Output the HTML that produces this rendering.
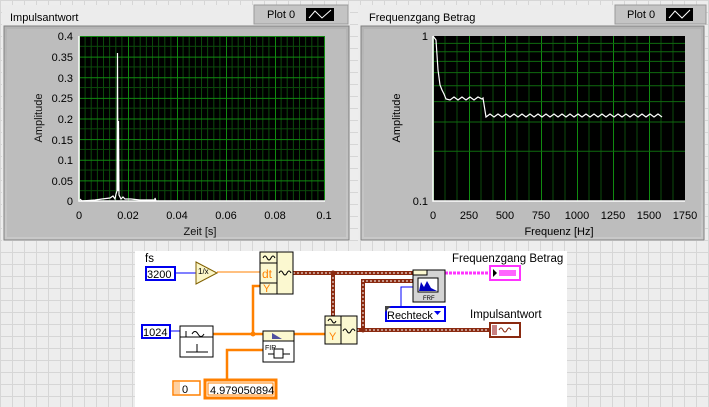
<!DOCTYPE html>
<html><head><meta charset="utf-8"><style>
html,body{margin:0;padding:0;width:709px;height:407px;overflow:hidden;background:#eeeeee}
svg{display:block;font-family:"Liberation Sans",sans-serif}
</style></head><body>
<svg width="709" height="407" viewBox="0 0 709 407" xmlns="http://www.w3.org/2000/svg">
<defs>
<pattern id="bg" width="12" height="12" patternUnits="userSpaceOnUse">
<rect width="12" height="12" fill="#ededed"/><path d="M0,0.5H12M0.5,0V12" stroke="#d6d6d6" stroke-width="1"/>
</pattern>
<pattern id="gl" x="79" y="36" width="49" height="20.625" patternUnits="userSpaceOnUse">
<rect width="49" height="20.625" fill="#000"/>
<path d="M6.1,0V21M12.2,0V21M18.4,0V21M24.5,0V21M30.6,0V21M36.8,0V21M42.9,0V21M0,10.3H49" stroke="#0b4a0b" stroke-width="1"/>
<path d="M0.5,0V21M0,0.5H49" stroke="#108a10" stroke-width="1"/>
</pattern>
<pattern id="gr" x="433" y="36" width="36" height="200" patternUnits="userSpaceOnUse">
<path d="M12,0V200M24,0V200" stroke="#0b4a0b" stroke-width="1"/>
<path d="M0.5,0V200" stroke="#108a10" stroke-width="1"/>
</pattern>
<linearGradient id="pn" x1="0" y1="0" x2="0" y2="1"><stop offset="0" stop-color="#b4b4b4"/><stop offset="1" stop-color="#c8c8c8"/></linearGradient>
</defs>
<rect width="709" height="407" fill="url(#bg)"/>

<!-- Left chart -->
<rect x="2" y="5" width="348" height="236" fill="#ececec"/>
<rect x="4" y="26" width="345" height="214" fill="url(#pn)" stroke="#808080"/>
<rect x="7" y="29" width="339" height="208" fill="#bdbdbd"/>
<text x="10" y="21" font-size="11" fill="#000">Impulsantwort</text>
<rect x="254" y="5" width="94" height="19" fill="#c4c4c4" stroke="#9a9a9a"/>
<text x="267" y="18" font-size="11">Plot 0</text>
<rect x="306" y="8" width="28" height="13" fill="#000"/>
<path d="M309,18 L315,11 L322,18 L331,10" stroke="#fff" fill="none"/>
<rect x="79" y="36" width="246" height="165" fill="url(#gl)"/>
<path d="M79,36V201H325" stroke="#fff" fill="none" stroke-width="1.5"/>
<path d="M80,199 L82,201 L95,200 L102,199 L110,198 L113,196 L115,199 L116,194 L117,191 L117.5,53 L118,191 L118.5,121 L119,195 L121,199 L123,197 L125,199 L131,199 L140,200 L155,200 L155,198 L156,201" stroke="#fff" fill="none" stroke-width="1.2"/>
<g font-size="11" fill="#000" text-anchor="end">
<text x="73" y="40">0.4</text><text x="73" y="61">0.35</text><text x="73" y="82">0.3</text><text x="73" y="102">0.25</text><text x="73" y="123">0.2</text><text x="73" y="144">0.15</text><text x="73" y="164">0.1</text><text x="73" y="185">0.05</text><text x="73" y="205">0</text>
</g>
<g font-size="11" fill="#000" text-anchor="middle">
<text x="79" y="219">0</text><text x="128" y="219">0.02</text><text x="177" y="219">0.04</text><text x="226" y="219">0.06</text><text x="275" y="219">0.08</text><text x="324" y="219">0.1</text>
<text x="200" y="235" fill="#111">Zeit [s]</text>
<text transform="translate(42,118) rotate(-90)" fill="#111">Amplitude</text>
</g>

<!-- Right chart -->
<rect x="358" y="5" width="347" height="236" fill="#ececec"/>
<rect x="361" y="26" width="343" height="214" fill="url(#pn)" stroke="#808080"/>
<rect x="364" y="29" width="337" height="208" fill="#bdbdbd"/>
<text x="369" y="21" font-size="11">Frequenzgang Betrag</text>
<rect x="615" y="5" width="91" height="19" fill="#c4c4c4" stroke="#9a9a9a"/>
<text x="627" y="18" font-size="11">Plot 0</text>
<rect x="666" y="8" width="27" height="13" fill="#000"/>
<path d="M669,18 L675,11 L682,18 L690,10" stroke="#fff" fill="none"/>
<rect x="433" y="36" width="252" height="165" fill="#000"/>
<rect x="433" y="36" width="252" height="165" fill="url(#gr)"/>
<path d="M433,151.3H685M433,122H685M433,101.6H685M433,85.7H685M433,72.6H685M433,61.4H685M433,51.8H685M433,43.4H685" stroke="#0f6a0f"/>
<path d="M433,36V201H685" stroke="#fff" fill="none" stroke-width="1.5"/>
<path d="M433,36 L436,40 L437,55 L438,70 L440,85 L442,90 L444,94 L446,99 L450,100 l4,-3 4,3 4,-3 4,3 4,-3 4,3 4,-3 4,2 L483,98 L486,117 l4,-3 4,3 4,-3 4,3 4,-3 4,3 4,-3 4,3 4,-3 4,3 4,-3 4,3 4,-3 4,3 4,-3 4,3 4,-3 4,3 4,-3 4,3 4,-3 4,3 4,-3 4,3 4,-3 4,3 4,-3 4,3 4,-3 4,3 4,-3 4,3 4,-3 4,3 4,-3 4,3 4,-3 4,3 4,-3 4,3 4,-3 4,3 4,-3 4,3" stroke="#fff" fill="none" stroke-width="1.2"/>
<g font-size="11" text-anchor="end"><text x="428" y="40">1</text><text x="428" y="205">0.1</text></g>
<g font-size="11" text-anchor="middle">
<text x="433" y="219">0</text><text x="469" y="219">250</text><text x="505" y="219">500</text><text x="541" y="219">750</text><text x="577" y="219">1000</text><text x="613" y="219">1250</text><text x="649" y="219">1500</text><text x="685" y="219">1750</text>
<text x="559" y="235">Frequenz [Hz]</text>
<text transform="translate(400,118) rotate(-90)">Amplitude</text>
</g>

<!-- Block diagram -->
<rect x="135" y="251" width="432" height="156" fill="#fff"/>
<g font-size="11.5">
<text x="145" y="262">fs</text>
<text x="452" y="262">Frequenzgang Betrag</text>
<text x="470" y="318">Impulsantwort</text>
</g>
<path d="M176,273H196" stroke="#0000ff"/>
<path d="M217,272H260" stroke="#ff8000"/>
<path d="M170,331H180" stroke="#0000ff"/>
<path d="M213,334H263M253,334V286H260M294,334H325M263,350H227V381" stroke="#ff8000" stroke-width="2.5" fill="none"/>
<circle cx="253" cy="334" r="2.5" fill="#ff8000"/>
<path d="M401,306V287H413" stroke="#0000ff" fill="none"/>
<path d="M445,273H490" stroke="#ff33ff" stroke-width="3" stroke-dasharray="3,1"/>
<g fill="none">
<path d="M293,273H413M333,273V318M357,330H490M363,330V281H413" stroke="#8a2a10" stroke-width="4"/>
<path d="M293,273H413M333,273V318M357,330H490M363,330V281H413" stroke="#fff" stroke-width="1" stroke-dasharray="2,2"/>
</g>
<circle cx="333" cy="273" r="2.5" fill="#8a2a10"/><circle cx="363" cy="330" r="2.5" fill="#8a2a10"/>
<rect x="146" y="267" width="29" height="13" fill="#fff" stroke="#0000ee" stroke-width="2"/>
<text x="147" y="278" font-size="11">3200</text>
<rect x="142" y="325" width="28" height="13" fill="#fff" stroke="#0000ee" stroke-width="2"/>
<text x="143" y="336" font-size="11">1024</text>
<path d="M196,262 L217,273 L196,284Z" fill="#fbf6c8" stroke="#806000"/>
<text x="198" y="274" font-size="8">1/x</text>
<rect x="260" y="252" width="33" height="42" fill="#fbf8d0" stroke="#000"/>
<path d="M277,252V294M260,263H277M260,283H277" stroke="#000"/>
<path d="M263,258 q2,-4 4,0 t4,0 t4,0" stroke="#000" fill="none"/>
<text x="262" y="278" font-size="12" fill="#ff8000">dt</text>
<text x="263" y="292" font-size="11" fill="#ff8000">Y</text>
<path d="M279,273 q2,-4 4,0 t4,0 t4,0" stroke="#000" fill="none"/>
<rect x="180" y="326" width="33" height="31" fill="#fff" stroke="#000"/>
<path d="M180,337H213M186,337V331" stroke="#000"/>
<path d="M192,334 q3,-5 6,0 t6,0" stroke="#000" fill="none"/>
<path d="M186,352H208M197,352V344" stroke="#000"/>
<rect x="263" y="331" width="31" height="31" fill="#fff" stroke="#000"/>
<rect x="263" y="331" width="31" height="10" fill="#fbf8d0" stroke="#000"/>
<path d="M272,339V333L282,339Z" fill="#5050a0"/>
<text x="265" y="350" font-size="7">FIR</text>
<path d="M268,354H274M283,354H290" stroke="#000"/><rect x="274" y="349" width="9" height="9" fill="#fff" stroke="#000"/>
<rect x="325" y="316" width="32" height="28" fill="#fbf8d0" stroke="#000"/>
<path d="M341,316V344M325,325H341" stroke="#000"/>
<path d="M328,321 q2,-4 4,0 t4,0" stroke="#000" fill="none"/>
<text x="329" y="340" font-size="11" fill="#ff8000">Y</text>
<path d="M343,331 q2,-4 4,0 t4,0 t4,0" stroke="#000" fill="none"/>
<rect x="413" y="270" width="32" height="32" fill="#d4d4d4" stroke="#000"/>
<rect x="413" y="270" width="14" height="5" fill="#fbf8d0" stroke="#000"/>
<rect x="418" y="278" width="20" height="14" fill="#fff" stroke="#000"/>
<path d="M419,291 L421,282 L424,287 L427,281 L431,288 L437,291Z" fill="#0000c0"/>
<text x="423" y="300" font-size="6">FRF</text>
<rect x="386" y="307" width="59" height="14" fill="#fff" stroke="#0000ee" stroke-width="2"/>
<path d="M385,306h6l-6,6z" fill="#444"/>
<text x="387" y="319" font-size="11">Rechteck</text>
<path d="M434,311h7l-3.5,4z" fill="#0000ee"/>
<rect x="490" y="266" width="30" height="14" fill="#fff" stroke="#ff33ff" stroke-width="2"/>
<path d="M493,269v8l4,-4z" fill="#000"/><rect x="499" y="270" width="17" height="6" fill="#ff66ff"/>
<rect x="490" y="323" width="30" height="14" fill="#fff" stroke="#8a2a10" stroke-width="2"/>
<rect x="492" y="325" width="5" height="10" fill="#c88080"/>
<path d="M499,330 q2,-4 4,0 t4,0 t4,0" stroke="#8a2a10" fill="none"/>
<rect x="173" y="381" width="27" height="14" fill="#fff" stroke="#ff8000" stroke-width="1.5"/>
<rect x="174" y="382" width="6" height="12" fill="#ffd0a0"/>
<text x="182" y="393" font-size="11">0</text>
<rect x="205" y="380" width="71" height="18" fill="#fff" stroke="#ff8000" stroke-width="3"/>
<rect x="208" y="383" width="65" height="12" fill="none" stroke="#ff8000" stroke-width="1"/>
<text x="210" y="394" font-size="11">4.979050894</text>
</svg>
</body></html>
